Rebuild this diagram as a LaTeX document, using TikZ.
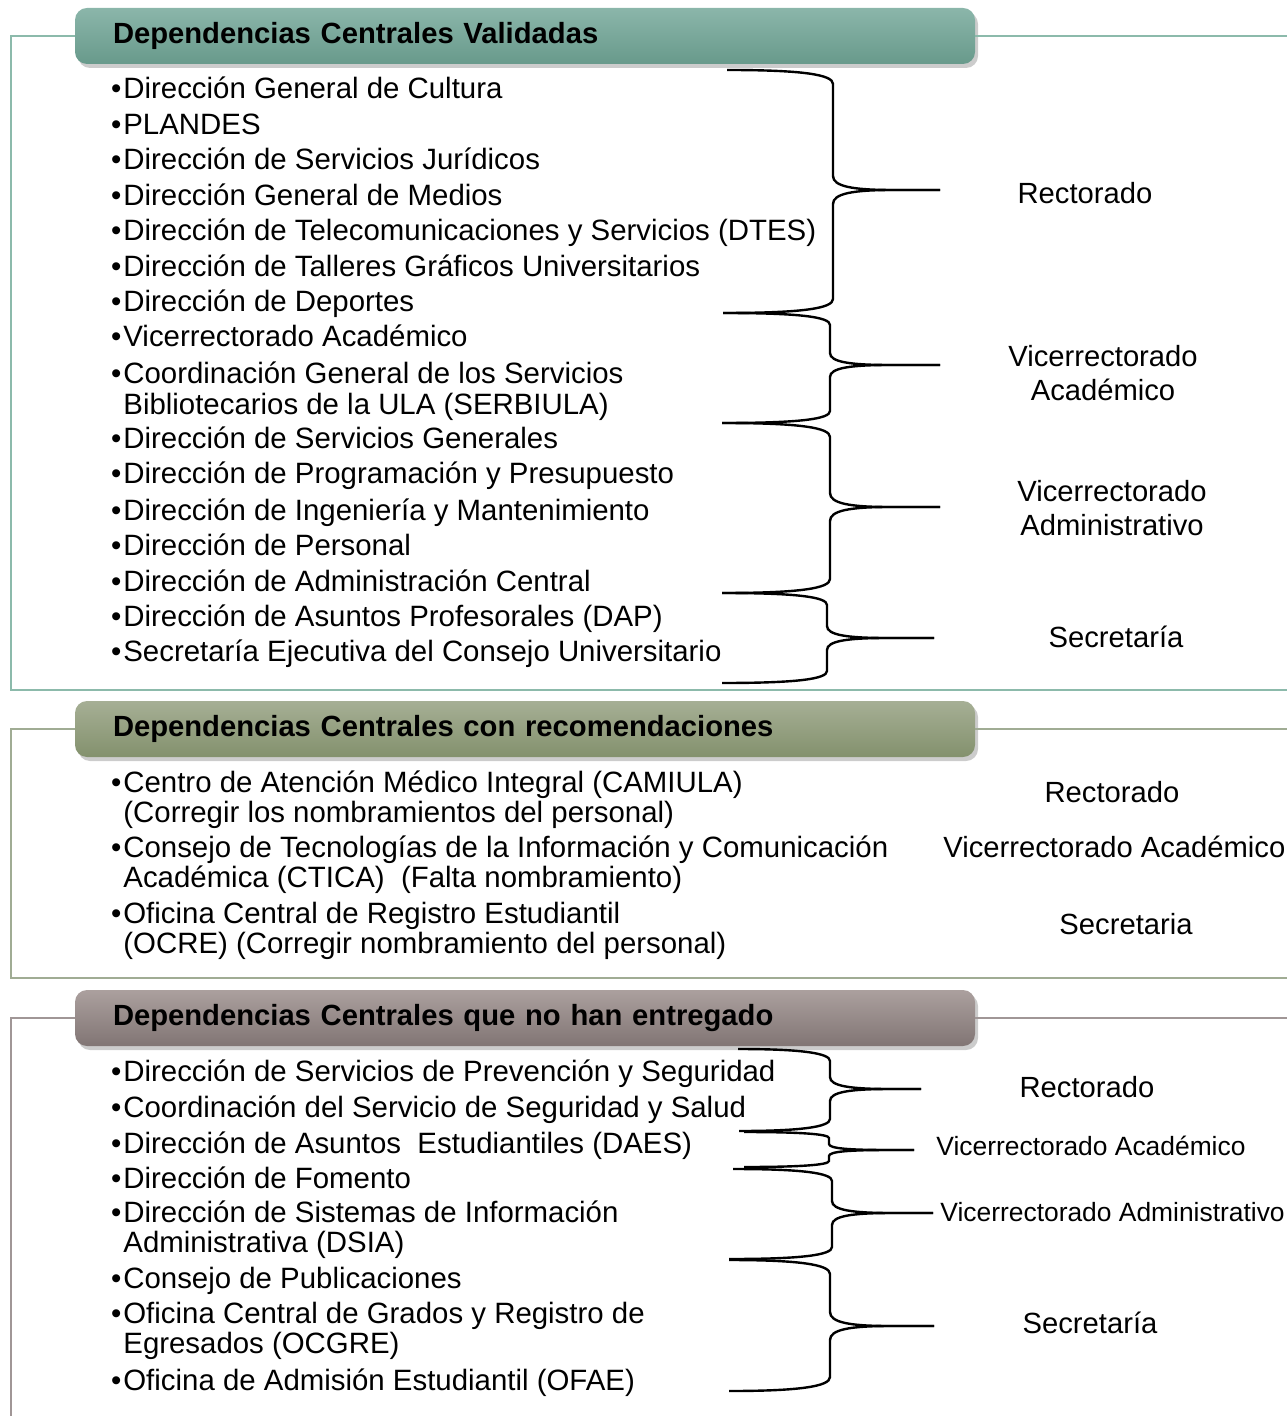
\documentclass[tikz,border=0pt]{standalone}
\usepackage{fontspec}
\setmainfont{Liberation Sans}
\usetikzlibrary{shadows}
\definecolor{verdeA}{RGB}{139,182,170}
\definecolor{verdeB}{RGB}{104,154,139}
\definecolor{marcoverde}{RGB}{140,186,171}
\definecolor{olivaA}{RGB}{166,175,149}
\definecolor{olivaB}{RGB}{131,145,109}
\definecolor{marcooliva}{RGB}{160,172,148}
\definecolor{malvaA}{RGB}{171,160,158}
\definecolor{malvaB}{RGB}{129,117,116}
\definecolor{marcomalva}{RGB}{160,150,150}
\newcommand{\uno}[1]{\llap{•\kern1pt}#1}
\newcommand{\dos}[2]{\vtop{\hbox{\llap{•\kern1pt}#1}\hbox{#2}}}
\newcommand{\llave}[8]{%
\draw[llave] (#1,#2) .. controls (#5-30,#2) and (#5,#2+#8/3) .. (#5,#2+#8) -- (#5,#6-#8) .. controls (#5,#6-#8/4) and (#5+20,#6) .. (#5+60,#6) -- (#7,#6);
\draw[llave] (#7,#6) -- (#5+60,#6) .. controls (#5+20,#6) and (#5,#6+#8/4) .. (#5,#6+#8) -- (#5,#4-#8) .. controls (#5,#4-#8/3) and (#5-30,#4) .. (#3,#4);}
\begin{document}
\begin{tikzpicture}[x=0.5pt,y=-0.5pt,
  elem/.style={anchor=base west, inner sep=0pt, font=\fontsize{14.7}{15.25}\selectfont},
  etiq/.style={align=center, inner sep=0pt, font=\fontsize{14.6}{17}\selectfont},
  etiqp/.style={anchor=west, inner sep=0pt, font=\fontsize{13.2}{15}\selectfont},
  cabecera/.style={rounded corners=6pt, minimum width=450pt, minimum height=28pt, text width=412pt,
    inner xsep=19pt, inner ysep=0pt, align=left, font=\fontsize{14.6}{15}\selectfont\bfseries,
    drop shadow={opacity=0.4, shadow xshift=1.5pt, shadow yshift=-2pt}},
  marco/.style={line width=0.9pt},
  llave/.style={line width=1.2pt, line join=round}]
\useasboundingbox (0,0) rectangle (1286,1416);

\node[cabecera, top color=verdeA, bottom color=verdeB] (cab1) at (525,36) {Dependencias Centrales Validadas};
\draw[marco, draw=marcoverde] (cab1.west) -- (11,36) -- (11,690) -- (1290,690);
\draw[marco, draw=marcoverde] (cab1.east) -- (1290,36);

\node[elem] (v1) at (123,99) {\uno{Dirección General de Cultura}};
\node[elem] (v2) at (123,135) {\uno{PLANDES}};
\node[elem] (v3) at (123,170) {\uno{Dirección de Servicios Jurídicos}};
\node[elem] (v4) at (123,206) {\uno{Dirección General de Medios}};
\node[elem] (v5) at (123,241) {\uno{Dirección de Telecomunicaciones y Servicios (DTES)}};
\node[elem] (v6) at (123,277) {\uno{Dirección de Talleres Gráficos Universitarios}};
\node[elem] (v7) at (123,312) {\uno{Dirección de Deportes}};
\node[elem] (v8) at (123,347) {\uno{Vicerrectorado Académico}};
\node[elem] (v9) at (123,384) {\dos{Coordinación General de los Servicios}{Bibliotecarios de la ULA (SERBIULA)}};
\node[elem] (v10) at (123,449) {\uno{Dirección de Servicios Generales}};
\node[elem] (v11) at (123,484) {\uno{Dirección de Programación y Presupuesto}};
\node[elem] (v12) at (123,520) {\uno{Dirección de Ingeniería y Mantenimiento}};
\node[elem] (v13) at (123,555) {\uno{Dirección de Personal}};
\node[elem] (v14) at (123,591) {\uno{Dirección de Administración Central}};
\node[elem] (v15) at (123,626) {\uno{Dirección de Asuntos Profesorales (DAP)}};
\node[elem] (v16) at (123,661) {\uno{Secretaría Ejecutiva del Consejo Universitario}};

\llave{727}{70}{723}{313}{833}{190}{940}{14}
\llave{723}{313}{722}{423}{830}{365}{940}{12}
\llave{722}{423}{722}{593}{830}{507}{940}{14}
\llave{722}{593}{722}{683}{827}{638}{934}{12}

\node[etiq] (r1) at (1085,193) {Rectorado};
\node[etiq] (va1) at (1103,373) {Vicerrectorado\\Académico};
\node[etiq] (vd1) at (1112,508) {Vicerrectorado\\Administrativo};
\node[etiq] (s1) at (1116,637) {Secretaría};

\node[cabecera, top color=olivaA, bottom color=olivaB] (cab2) at (525,729) {Dependencias Centrales con recomendaciones};
\draw[marco, draw=marcooliva] (cab2.west) -- (11,729) -- (11,978) -- (1290,978);
\draw[marco, draw=marcooliva] (cab2.east) -- (1290,729);

\node[elem] (c1) at (123,792) {\dos{Centro de Atención Médico Integral (CAMIULA)}{(Corregir los nombramientos del personal)}};
\node[elem] (c2) at (123,857) {\dos{Consejo de Tecnologías de la Información y Comunicación}{Académica (CTICA)~ (Falta nombramiento)}};
\node[elem] (c3) at (123,923) {\dos{Oficina Central de Registro Estudiantil}{(OCRE) (Corregir nombramiento del personal)}};

\node[etiq] (r2) at (1112,792) {Rectorado};
\node[etiq, anchor=west] (va2) at (943,847) {Vicerrectorado Académico};
\node[etiq] (s2) at (1126,924) {Secretaria};

\node[cabecera, top color=malvaA, bottom color=malvaB] (cab3) at (525,1018) {Dependencias Centrales que no han entregado};
\draw[marco, draw=marcomalva] (cab3.west) -- (11,1018) -- (11,1420);
\draw[marco, draw=marcomalva] (cab3.east) -- (1290,1018);

\node[elem] (n1) at (123,1081) {\uno{Dirección de Servicios de Prevención y Seguridad}};
\node[elem] (n2) at (123,1117) {\uno{Coordinación del Servicio de Seguridad y Salud}};
\node[elem] (n3) at (123,1153) {\uno{Dirección de Asuntos~ Estudiantiles (DAES)}};
\node[elem] (n4) at (123,1188) {\uno{Dirección de Fomento}};
\node[elem] (n5) at (123,1222) {\dos{Dirección de Sistemas de Información}{Administrativa (DSIA)}};
\node[elem] (n6) at (123,1288) {\uno{Consejo de Publicaciones}};
\node[elem] (n7) at (123,1323) {\dos{Oficina Central de Grados y Registro de}{Egresados (OCGRE)}};
\node[elem] (n8) at (123,1390) {\uno{Oficina de Admisión Estudiantil (OFAE)}};

\llave{738}{1049}{739}{1131}{830}{1089}{921}{12}
\llave{744}{1132}{744}{1167}{829}{1150}{914}{6}
\llave{733}{1169}{729}{1259}{832}{1213}{933}{12}
\llave{729}{1260}{729}{1391}{830}{1326}{934}{14}

\node[etiq] (r3) at (1087,1087) {Rectorado};
\node[etiqp] (va3) at (936,1146) {Vicerrectorado Académico};
\node[etiqp] (vd3) at (940,1212) {Vicerrectorado Administrativo};
\node[etiq] (s3) at (1090,1323) {Secretaría};
\end{tikzpicture}
\end{document}
